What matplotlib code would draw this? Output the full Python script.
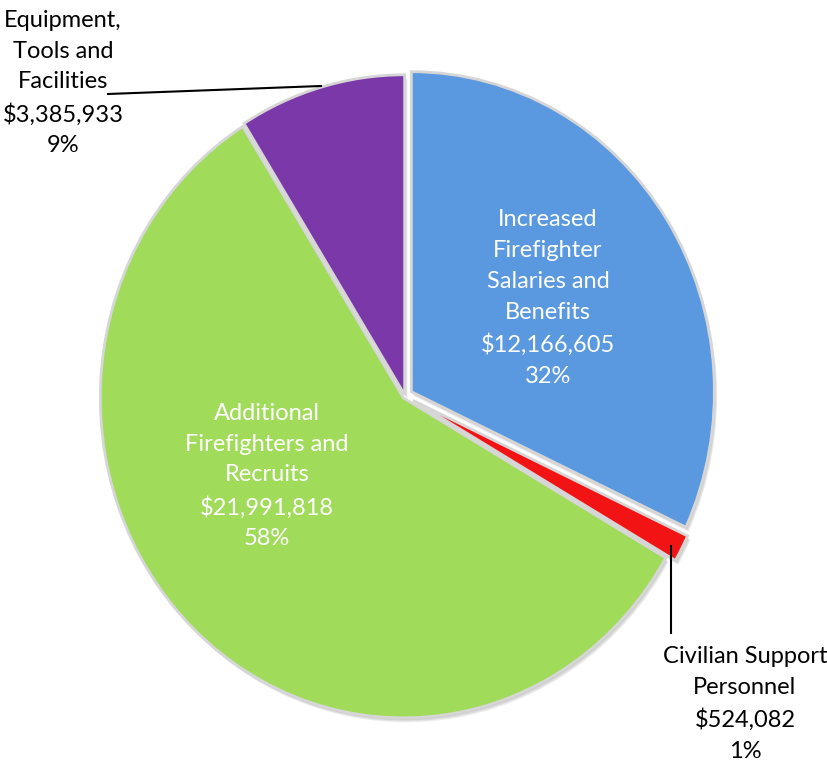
import matplotlib
matplotlib.use("Agg")
import matplotlib.pyplot as plt
import matplotlib.patheffects as pe

categories = ["Increased\nFirefighter\nSalaries and\nBenefits",
              "Civilian Support\nPersonnel",
              "Additional\nFirefighters and\nRecruits",
              "Equipment,\nTools and\nFacilities"]
values = [12166605, 524082, 21991818, 3385933]
percent_labels = ["32%", "1%", "58%", "9%"]
colors = ["#5A98E0", "#F21414", "#A0DB5A", "#7A38A8"]
explode = [0.025, 0.03, 0.008, 0.004]

W, H = 828, 761
cx, cy, rx, ry = 405, 396, 303, 320

fig = plt.figure(figsize=(W / 100, H / 100), dpi=100)
ax = fig.add_axes([0, 0, 1, 1])
wedges, _ = ax.pie(values, colors=colors, startangle=90, counterclock=False,
                   explode=explode,
                   wedgeprops=dict(edgecolor="#d6d6d6", linewidth=2.0))
shadow = [pe.SimplePatchShadow(offset=(0.5 * k, -0.8 * k), shadow_rgbFace="#555555", alpha=0.10)
          for k in (4, 3, 2, 1)]
for w in wedges:
    w.set_path_effects(shadow + [pe.Normal()])
ax.set_aspect("auto")
ax.set_xlim((0 - cx) / rx, (W - cx) / rx)
ax.set_ylim((cy - H) / ry, cy / ry)
ax.axis("off")

def lab(i):
    return f"{categories[i]}\n${values[i]:,}\n{percent_labels[i]}"

font = dict(family="Lato", fontsize=17, linespacing=1.57, ha="center", va="center")
# inside labels
ax.text(548 / W, 1 - 298 / H, lab(0), transform=fig.transFigure, color="white", **font)
ax.text(267 / W, 1 - 476 / H, lab(2), transform=fig.transFigure, color="white", **font)
# outside labels
ax.text(63 / W, 1 - 83 / H, lab(3), transform=fig.transFigure, color="black", **font)
ax.text(745 / W, 1 - 704 / H, lab(1), transform=fig.transFigure, color="black", **font)

# leader lines
ax.plot([108 / W, 321 / W], [1 - 94 / H, 1 - 86 / H], transform=fig.transFigure, color="black", lw=1.5)
ax.plot([671 / W, 671 / W], [1 - 546 / H, 1 - 633 / H], transform=fig.transFigure, color="black", lw=1.5)

fig.savefig("out.png", dpi=100, facecolor="white")
